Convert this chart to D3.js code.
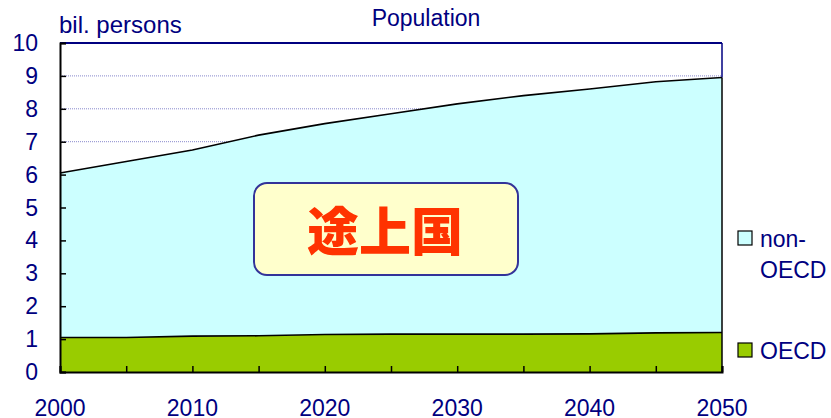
<!DOCTYPE html>
<html>
<head>
<meta charset="utf-8">
<script src="https://cdn.jsdelivr.net/npm/d3@7"></script>
<style>
  body { margin: 0; background: #fff; }
  svg { display: block; font-family: "Liberation Sans", Arial, sans-serif; }
</style>
</head>
<body>
<svg id="chart" width="831" height="418"></svg>
<script>
// Population by region, billions of persons
const years = [2000, 2005, 2010, 2015, 2020, 2025, 2030, 2035, 2040, 2045, 2050];
const oecd = [1.05, 1.05, 1.09, 1.10, 1.14, 1.15, 1.15, 1.15, 1.16, 1.19, 1.20];
const nonOecd = [5.00, 5.35, 5.66, 6.10, 6.41, 6.70, 7.00, 7.25, 7.44, 7.63, 7.75];
const yTicks = [0, 1, 2, 3, 4, 5, 6, 7, 8, 9, 10];
const xLabels = [2000, 2010, 2020, 2030, 2040, 2050];
const seriesNames = ["OECD", "non-OECD"];
const colors = { "OECD": "#99CC00", "non-OECD": "#CCFFFF" };
const navy = "#000080";
const fs = 23;

const svg = d3.select("#chart");
const m = { left: 60, right: 722, top: 43, bottom: 372 };

const x = d3.scaleLinear().domain([2000, 2050]).range([m.left, m.right]);
const y = d3.scaleLinear().domain([0, 10]).range([m.bottom, m.top]);

// gridlines
svg.append("g").selectAll("line").data(yTicks.filter(d => d > 0 && d < 10)).join("line")
  .attr("x1", m.left).attr("x2", m.right)
  .attr("y1", d => y(d)).attr("y2", d => y(d))
  .attr("stroke", "#8888CC").attr("stroke-width", 1).attr("stroke-dasharray", "1,1");

// stacked areas
const rows = years.map((yr, i) => ({ year: yr, "OECD": oecd[i], "non-OECD": nonOecd[i] }));
const stack = d3.stack().keys(seriesNames)(rows);
const area = d3.area().x(d => x(d.data.year)).y0(d => y(d[0])).y1(d => y(d[1]));
const topLine = d3.line().x(d => x(d.data.year)).y(d => y(d[1]));

svg.append("g").selectAll("path").data(stack).join("path")
  .attr("d", area).attr("fill", d => colors[d.key]);
svg.append("g").selectAll("path").data(stack).join("path")
  .attr("d", topLine).attr("fill", "none").attr("stroke", "#000").attr("stroke-width", 1.6);

// plot frame: top and right navy, axes black
const lastTotal = oecd[oecd.length - 1] + nonOecd[nonOecd.length - 1];
svg.append("line").attr("x1", m.left).attr("x2", m.right).attr("y1", m.top).attr("y2", m.top)
  .attr("stroke", navy).attr("stroke-width", 2);
svg.append("line").attr("x1", m.right).attr("x2", m.right).attr("y1", m.top).attr("y2", y(lastTotal))
  .attr("stroke", navy).attr("stroke-width", 1.5);
svg.append("line").attr("x1", m.right).attr("x2", m.right).attr("y1", y(lastTotal)).attr("y2", m.bottom)
  .attr("stroke", "#000").attr("stroke-width", 1.5);

// y axis
const yAxis = d3.axisRight(y).tickValues(yTicks).tickSize(6).tickFormat("");
const gy = svg.append("g").attr("transform", `translate(${m.left},0)`).call(yAxis);
gy.select(".domain").attr("stroke", "#000").attr("stroke-width", 2);
gy.selectAll(".tick line").attr("stroke", "#000").attr("stroke-width", 1.5);
svg.append("g").selectAll("text").data(yTicks).join("text")
  .attr("x", 38).attr("y", d => y(d) + 8).attr("text-anchor", "end")
  .attr("font-size", fs).attr("fill", navy).text(d => d);

// x axis
const xAxis = d3.axisTop(x).tickValues(years).tickSize(6).tickFormat("");
const gx = svg.append("g").attr("transform", `translate(0,${m.bottom})`).call(xAxis);
gx.select(".domain").attr("stroke", "#000").attr("stroke-width", 2);
gx.selectAll(".tick line").attr("stroke", "#000").attr("stroke-width", 1.5);
svg.append("g").selectAll("text").data(xLabels).join("text")
  .attr("x", d => x(d)).attr("y", 416).attr("text-anchor", "middle")
  .attr("font-size", fs).attr("fill", navy).text(d => d);

// titles
svg.append("text").attr("x", 426).attr("y", 26).attr("text-anchor", "middle")
  .attr("font-size", 23).attr("fill", navy).text("Population");
svg.append("text").attr("x", 59).attr("y", 33)
  .attr("font-size", 24).attr("fill", navy).text("bil. persons");

// annotation box
svg.append("rect").attr("x", 254).attr("y", 183).attr("width", 264).attr("height", 92)
  .attr("rx", 13).attr("fill", "#FFFFCC").attr("stroke", "#333399").attr("stroke-width", 2);
svg.append("text").attr("x", 385).attr("y", 251).attr("text-anchor", "middle")
  .attr("font-family", "'Noto Sans CJK JP', sans-serif").attr("font-weight", "900")
  .attr("font-size", 52).attr("fill", "#FF3300").text("途上国");

// legend
const legend = [
  { key: "non-OECD", lines: ["non-", "OECD"], y: 231 },
  { key: "OECD", lines: ["OECD"], y: 343 }
];
const lg = svg.append("g").selectAll("g").data(legend).join("g");
lg.append("rect").attr("x", 738).attr("y", d => d.y).attr("width", 14).attr("height", 14)
  .attr("fill", d => colors[d.key]).attr("stroke", "#000").attr("stroke-width", 1.2);
lg.append("text").attr("font-size", fs).attr("fill", navy)
  .selectAll("tspan").data(d => d.lines.map((t, i) => ({ t, i, y: d.y }))).join("tspan")
  .attr("x", 760).attr("y", d => d.y + 16 + d.i * 31).text(d => d.t);
</script>
</body>
</html>
